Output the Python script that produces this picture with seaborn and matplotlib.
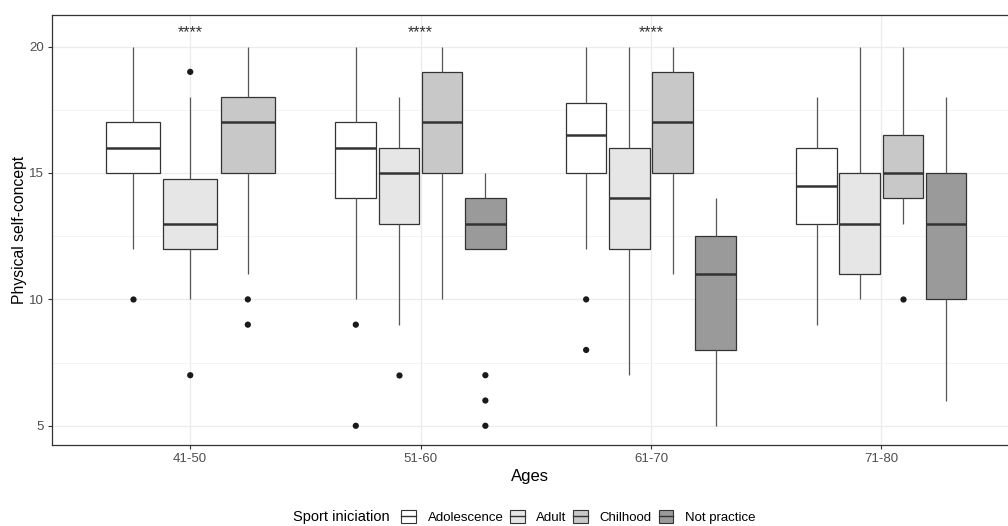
import numpy as np
import pandas as pd
import matplotlib
matplotlib.use('Agg')
import matplotlib.pyplot as plt
from matplotlib.patches import Patch
from matplotlib.lines import Line2D
from matplotlib.ticker import MultipleLocator
import seaborn as sns

plt.rcParams['font.family'] = ['Liberation Sans', 'DejaVu Sans']

AGES = ["41-50", "51-60", "61-70", "71-80"]
GROUPS = ["Adolescence", "Adult", "Chilhood", "Not practice"]
FILLS = ["#FFFFFF", "#E6E6E6", "#C8C8C8", "#9A9A9A"]

# box summaries (41-50 has no "Not practice" box)
BOX_AGE = ["41-50"] * 3 + ["51-60"] * 4 + ["61-70"] * 4 + ["71-80"] * 4
BOX_GROUP = GROUPS[:3] + GROUPS * 3
LOW = [12, 10, 11, 10, 9, 10, 12, 12, 7, 11, 5, 9, 10, 13, 6]
Q1 = [15, 12, 15, 14, 13, 15, 12, 15, 12, 15, 8, 13, 11, 14, 10]
MED = [16, 13, 17, 16, 15, 17, 13, 16.5, 14, 17, 11, 14.5, 13, 15, 13]
Q3 = [17, 14.75, 18, 17, 16, 19, 14, 17.75, 16, 19, 12.5, 16, 15, 16.5, 15]
HIGH = [20, 18, 20, 20, 18, 20, 15, 20, 20, 20, 14, 18, 20, 20, 18]

# outlying points
OUT_AGE = ["41-50", "41-50", "41-50", "41-50", "41-50",
           "51-60", "51-60", "51-60", "51-60", "51-60", "51-60",
           "61-70", "61-70", "71-80"]
OUT_GROUP = ["Adolescence", "Adult", "Adult", "Chilhood", "Chilhood",
             "Adolescence", "Adolescence", "Adult", "Not practice", "Not practice", "Not practice",
             "Adolescence", "Adolescence", "Chilhood"]
OUT_VALUE = [10, 19, 7, 10, 9, 9, 5, 7, 7, 6, 5, 10, 8, 10]

SIG_AGES = ["41-50", "51-60", "61-70"]
SIG_LABEL = "****"
SIG_Y = 20.55

# expand each summary into five points so the quartiles come out exact
rows = []
for a, g, lo, q1, md, q3, hi in zip(BOX_AGE, BOX_GROUP, LOW, Q1, MED, Q3, HIGH):
    for v in (lo, q1, md, q3, hi):
        rows.append({"age": a, "group": g, "score": v})
box_df = pd.DataFrame(rows)
out_df = pd.DataFrame({"age": OUT_AGE, "group": OUT_GROUP, "score": OUT_VALUE})

pal = dict(zip(GROUPS, FILLS))
edge = "#333333"
WIDTH = 0.75

fig = plt.figure(figsize=(10.08, 5.26), dpi=100)
ax = fig.add_axes([0.0516, 0.154, 0.9484, 0.8175])

box_kw = dict(x="age", y="score", hue="group", order=AGES, palette=pal,
              width=WIDTH, gap=0.06, whis=(0, 100), showcaps=False,
              linecolor=edge, linewidth=0.9, legend=False, ax=ax,
              medianprops={"linewidth": 1.8, "color": "#333333"},
              whiskerprops={"color": "#555555"})

first = box_df["age"] == "41-50"
sns.boxplot(data=box_df[first], hue_order=GROUPS[:3], **box_kw)
sns.boxplot(data=box_df[~first], hue_order=GROUPS, **box_kw)

n0 = len(ax.collections)
pt_kw = dict(x="age", y="score", hue="group", order=AGES,
             palette={g: "#1a1a1a" for g in GROUPS}, dodge=True, jitter=False,
             size=4.5, legend=False, ax=ax)
o_first = out_df["age"] == "41-50"
sns.stripplot(data=out_df[o_first], hue_order=GROUPS[:3], **pt_kw)
sns.stripplot(data=out_df[~o_first], hue_order=GROUPS, **pt_kw)
# stripplot dodges over 0.8; pull the points onto the 0.75-wide boxes
for coll in ax.collections[n0:]:
    off = coll.get_offsets()
    if len(off):
        c = np.round(off[:, 0])
        off[:, 0] = c + (off[:, 0] - c) * WIDTH / 0.8
        coll.set_offsets(off)
        coll.set_zorder(3)

for a in SIG_AGES:
    ax.text(AGES.index(a), SIG_Y, SIG_LABEL, ha="center", va="center",
            fontsize=11.5, color="#333333")

ax.set_xlim(-0.6, 3.55)
ax.set_ylim(4.24, 21.25)
ax.yaxis.set_major_locator(MultipleLocator(5))
ax.yaxis.set_minor_locator(MultipleLocator(2.5))
ax.set_axisbelow(True)
ax.grid(which="major", color="#EBEBEB", linewidth=0.9)
ax.grid(which="minor", axis="y", color="#F2F2F2", linewidth=0.6)
ax.tick_params(which="major", length=3, width=0.8, color="#333333",
               labelsize=9.5, labelcolor="#4D4D4D", pad=3)
ax.tick_params(which="minor", length=0)
for side in ["left", "bottom", "top"]:
    ax.spines[side].set_color("#333333")
    ax.spines[side].set_linewidth(0.9)
ax.spines["right"].set_visible(False)

ax.set_xlabel("Ages", fontsize=12, labelpad=3)
ax.set_ylabel("Physical self-concept", fontsize=11.3, labelpad=1)

handles = [(Patch(facecolor=f, edgecolor=edge, linewidth=0.8),
            Line2D([], [], color=edge, linewidth=1.0)) for f in FILLS]
fig.text(0.291, 0.017, "Sport iniciation", fontsize=10.5, va="center", ha="left")
fig.legend(handles, GROUPS, loc="center left", bbox_to_anchor=(0.398, 0.017),
           ncol=4, frameon=False, fontsize=9.5, handlelength=1.1, handleheight=1.1,
           handletextpad=0.9, columnspacing=0.5, borderpad=0, borderaxespad=0)

fig.savefig("out.png", dpi=100)
